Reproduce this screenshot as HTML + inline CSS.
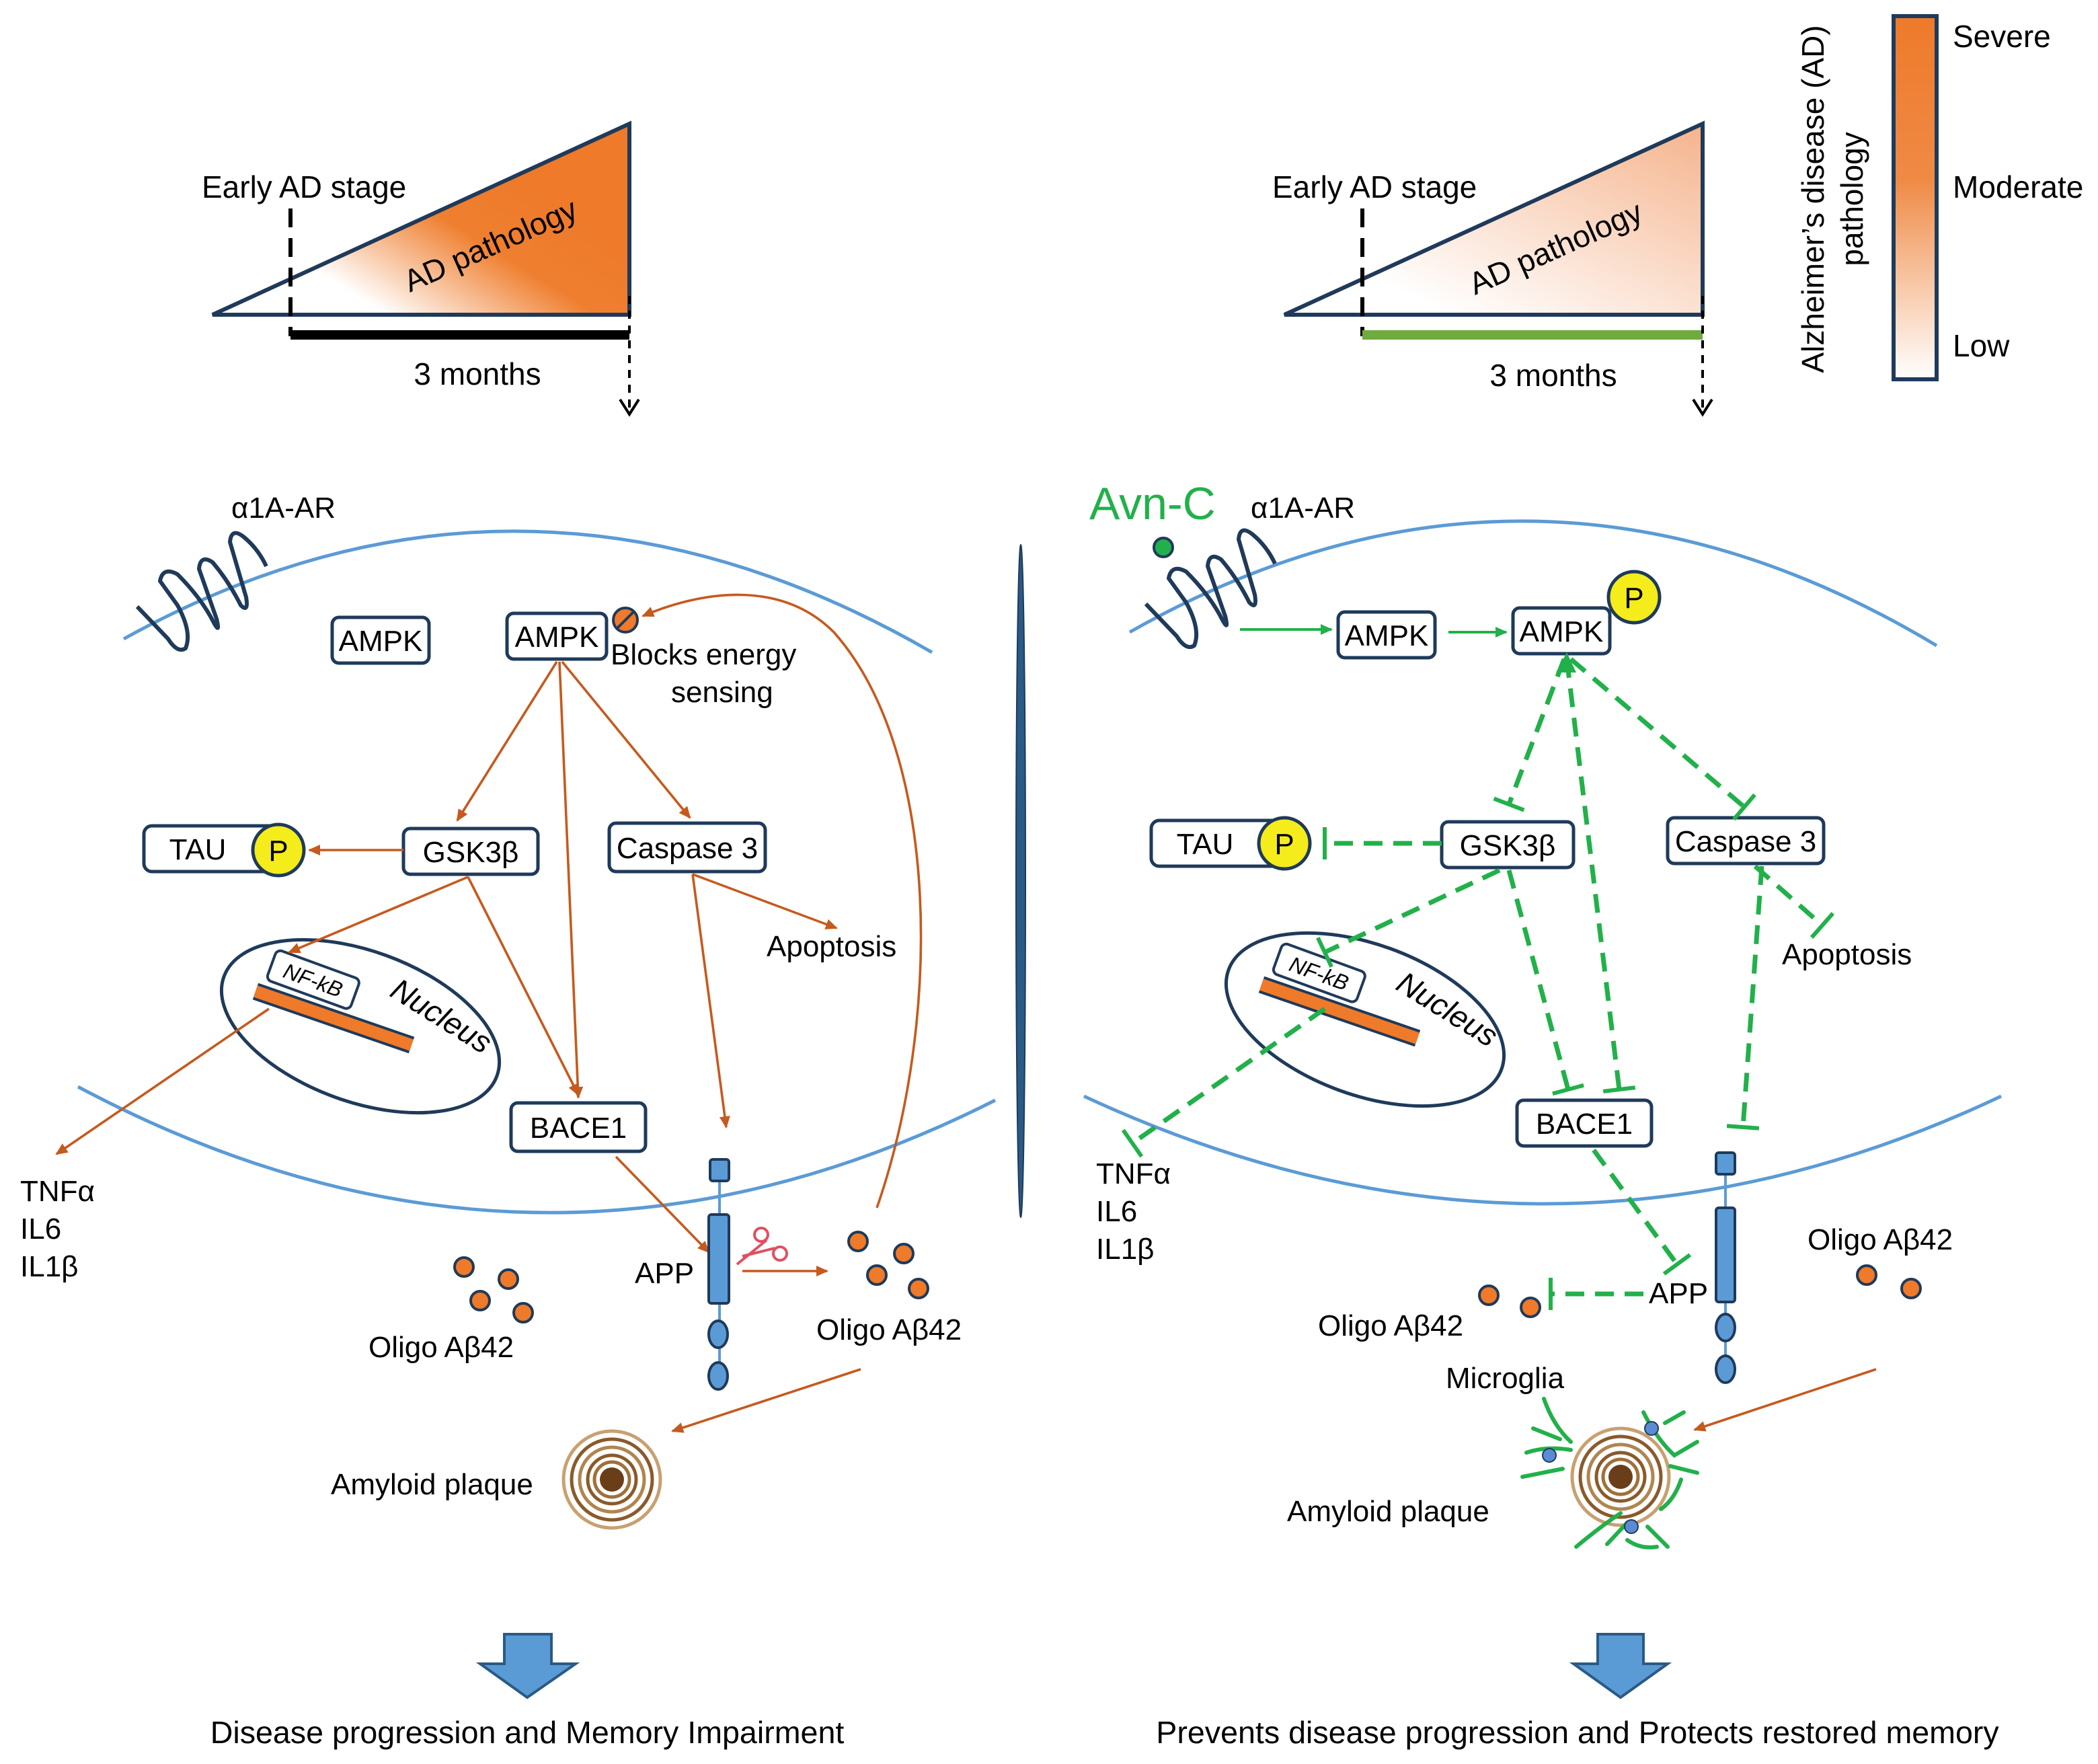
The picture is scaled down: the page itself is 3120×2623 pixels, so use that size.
<!DOCTYPE html>
<html><head><meta charset="utf-8"><style>
html,body{margin:0;padding:0;background:#fff}
svg{display:block}
text{font-family:"Liberation Sans",sans-serif;fill:#000}
</style></head><body>
<svg width="3120" height="2623" viewBox="0 0 1560 1311.5" xmlns="http://www.w3.org/2000/svg">
<defs>
<linearGradient id="g1" x1="0.2" y1="0.7" x2="0.75" y2="0.3">
<stop offset="0" stop-color="#fff"/><stop offset="0.6" stop-color="#ef7f30"/><stop offset="1" stop-color="#ee7a2a"/></linearGradient>
<linearGradient id="g2" x1="0.2" y1="0.8" x2="1" y2="0">
<stop offset="0" stop-color="#fff"/><stop offset="1" stop-color="#f5b38c"/></linearGradient>
<linearGradient id="g3" x1="0" y1="0" x2="0" y2="1">
<stop offset="0" stop-color="#ee7a2a"/><stop offset="0.45" stop-color="#ef8a45"/><stop offset="1" stop-color="#fff"/></linearGradient>
<marker id="ao" markerWidth="10" markerHeight="10" refX="8" refY="5" orient="auto" markerUnits="userSpaceOnUse"><path d="M0,1 L9,5 L0,9 z" fill="#c55a1e"/></marker>
<marker id="ag" markerWidth="10" markerHeight="10" refX="8" refY="5" orient="auto" markerUnits="userSpaceOnUse"><path d="M0,1 L9,5 L0,9 z" fill="#22b04a"/></marker>
<marker id="tg" markerWidth="6" markerHeight="24" refX="3" refY="12" orient="auto" markerUnits="userSpaceOnUse"><line x1="3" y1="0" x2="3" y2="24" stroke="#22b04a" stroke-width="3"/></marker>
<path id="rcp" d="M102,451 L125,475 Q132,486 138,482 Q143,470 132,450 L119,432 Q121,421 132,427 Q150,445 159,463 Q164,472 161,460 L148,423 Q149,412 158,418 Q170,432 179,450 Q185,456 183,444 L171,403 Q172,392 181,399 Q192,408 198,421" fill="none" stroke="#1f3a5a" stroke-width="3" stroke-linejoin="round"/>
</defs>

<!-- Top left timeline -->
<polygon points="158,234 468,92 468,234" fill="url(#g1)" stroke="#1f3a5a" stroke-width="3"/>
<line x1="216" y1="155" x2="216" y2="250" stroke="#000" stroke-width="3" stroke-dasharray="14,8"/>
<line x1="216" y1="249" x2="468" y2="249" stroke="#000" stroke-width="7"/>
<line x1="468" y1="220" x2="468" y2="308" stroke="#000" stroke-width="2" stroke-dasharray="6,5"/>
<path d="M461,297 L468,308 L475,297" fill="none" stroke="#000" stroke-width="2"/>
<text x="150" y="147" font-size="23">Early AD stage</text>
<text x="365" y="190" font-size="23" text-anchor="middle" transform="rotate(-24 365 183)">AD pathology</text>
<text x="355" y="286" font-size="23" text-anchor="middle">3 months</text>

<!-- Top right timeline -->
<polygon points="955,234 1266,92 1266,234" fill="url(#g2)" stroke="#1f3a5a" stroke-width="3"/>
<line x1="1013" y1="155" x2="1013" y2="250" stroke="#000" stroke-width="3" stroke-dasharray="14,8"/>
<line x1="1013" y1="249" x2="1266" y2="249" stroke="#6fab3e" stroke-width="7"/>
<line x1="1266" y1="220" x2="1266" y2="308" stroke="#000" stroke-width="2" stroke-dasharray="6,5"/>
<path d="M1259,297 L1266,308 L1273,297" fill="none" stroke="#000" stroke-width="2"/>
<text x="946" y="147" font-size="23">Early AD stage</text>
<text x="1157" y="192" font-size="23" text-anchor="middle" transform="rotate(-24 1157 185)">AD pathology</text>
<text x="1155" y="287" font-size="23" text-anchor="middle">3 months</text>

<!-- Legend -->
<rect x="1408" y="12" width="32" height="270" fill="url(#g3)" stroke="#1f3a5a" stroke-width="3"/>
<text x="1452" y="35" font-size="23">Severe</text>
<text x="1452" y="147" font-size="23">Moderate</text>
<text x="1452" y="265" font-size="23">Low</text>
<text font-size="23" text-anchor="middle" transform="translate(1356 148) rotate(-90)">Alzheimer’s disease (AD)</text>
<text font-size="23" text-anchor="middle" transform="translate(1385 148) rotate(-90)">pathology</text>

<!-- Divider -->
<ellipse cx="759" cy="655" rx="3.5" ry="250" fill="#2a5a86" stroke="#1f3a5a" stroke-width="1"/>

<!-- LEFT CELL -->
<path d="M92,475 Q390,310 693,485" fill="none" stroke="#5b9bd5" stroke-width="2.5"/>
<path d="M58,808 Q400,990 740,818" fill="none" stroke="#5b9bd5" stroke-width="2.5"/>
<use href="#rcp"/>
<text x="172" y="385" font-size="22">α1A-AR</text>

<rect x="247" y="459" width="72" height="34" rx="5" fill="#fff" stroke="#1f3a5a" stroke-width="2.5"/>
<text x="283" y="484" font-size="22" text-anchor="middle">AMPK</text>
<rect x="377" y="456" width="74" height="34" rx="5" fill="#fff" stroke="#1f3a5a" stroke-width="2.5"/>
<text x="414" y="481" font-size="22" text-anchor="middle">AMPK</text>
<circle cx="465" cy="461" r="9" fill="#ee7a2a" stroke="#1f3a5a" stroke-width="2"/>
<line x1="459" y1="467" x2="471" y2="455" stroke="#1f3a5a" stroke-width="2"/>
<text x="454" y="494" font-size="22">Blocks energy</text>
<text x="499" y="522" font-size="22">sensing</text>

<rect x="107" y="614" width="100" height="34" rx="6" fill="#fff" stroke="#1f3a5a" stroke-width="2.5"/>
<text x="147" y="639" font-size="22" text-anchor="middle">TAU</text>
<circle cx="207" cy="632" r="19" fill="#f5ec1c" stroke="#1f3a5a" stroke-width="2.5"/>
<text x="207" y="640" font-size="22" text-anchor="middle">P</text>
<rect x="300" y="616" width="100" height="34" rx="5" fill="#fff" stroke="#1f3a5a" stroke-width="2.5"/>
<text x="350" y="641" font-size="22" text-anchor="middle">GSK3β</text>
<rect x="453" y="612" width="116" height="36" rx="5" fill="#fff" stroke="#1f3a5a" stroke-width="2.5"/>
<text x="511" y="638" font-size="22" text-anchor="middle">Caspase 3</text>
<rect x="380" y="820" width="100" height="36" rx="5" fill="#fff" stroke="#1f3a5a" stroke-width="2.5"/>
<text x="430" y="846" font-size="22" text-anchor="middle">BACE1</text>

<ellipse cx="268" cy="763" rx="108" ry="56" transform="rotate(20 268 763)" fill="none" stroke="#1f3a5a" stroke-width="2.5"/>
<line x1="190" y1="737" x2="306" y2="777" stroke="#1f3a5a" stroke-width="13"/>
<line x1="190" y1="737" x2="306" y2="777" stroke="#ee7a2a" stroke-width="9"/>
<g transform="rotate(20 232 728)"><rect x="200" y="716" width="66" height="24" rx="4" fill="#fff" stroke="#1f3a5a" stroke-width="2"/>
<text x="233" y="734" font-size="16" text-anchor="middle" font-style="italic">NF-kB</text></g>
<text x="324" y="762" font-size="23" font-style="italic" transform="rotate(32 324 762)" text-anchor="middle">Nucleus</text>

<g stroke="#c55a1e" stroke-width="1.8" fill="none" marker-end="url(#ao)">
<line x1="414" y1="492" x2="340" y2="610"/>
<line x1="416" y1="492" x2="430" y2="816"/>
<line x1="418" y1="492" x2="513" y2="608"/>
<line x1="300" y1="632" x2="230" y2="632"/>
<line x1="348" y1="652" x2="215" y2="708"/>
<line x1="348" y1="652" x2="430" y2="814"/>
<line x1="515" y1="650" x2="622" y2="690"/>
<line x1="515" y1="650" x2="540" y2="838"/>
<line x1="200" y1="750" x2="42" y2="858"/>
<line x1="458" y1="860" x2="527" y2="931"/>
<line x1="552" y1="945" x2="615" y2="945"/>
<line x1="640" y1="1018" x2="500" y2="1064"/>
<path d="M652,898 C700,760 700,560 620,470 C580,430 520,440 478,458"/>
</g>
<text x="570" y="711" font-size="22">Apoptosis</text>
<text x="15" y="893" font-size="22">TNFα</text>
<text x="15" y="921" font-size="22">IL6</text>
<text x="15" y="949" font-size="22">IL1β</text>

<!-- APP left -->
<line x1="535" y1="870" x2="535" y2="1025" stroke="#5b9bd5" stroke-width="2"/>
<rect x="528" y="862" width="14" height="16" rx="2" fill="#5b9bd5" stroke="#1f3a5a" stroke-width="2"/>
<rect x="527" y="903" width="15" height="66" rx="2" fill="#5b9bd5" stroke="#1f3a5a" stroke-width="2"/>
<ellipse cx="534" cy="992" rx="7" ry="10" fill="#5b9bd5" stroke="#1f3a5a" stroke-width="2"/>
<ellipse cx="534" cy="1023" rx="7" ry="10" fill="#5b9bd5" stroke="#1f3a5a" stroke-width="2"/>
<text x="472" y="954" font-size="22">APP</text>
<g fill="none" stroke="#e05060" stroke-width="2"><circle cx="566" cy="918" r="5"/><circle cx="580" cy="932" r="5"/><line x1="570" y1="922" x2="548" y2="940"/><line x1="576" y1="928" x2="552" y2="934"/></g>

<g fill="#ee7a2a" stroke="#1f3a5a" stroke-width="2">
<circle cx="345" cy="942" r="7"/><circle cx="378" cy="951" r="7"/><circle cx="357" cy="967" r="7"/><circle cx="389" cy="976" r="7"/>
<circle cx="638" cy="923" r="7"/><circle cx="672" cy="932" r="7"/><circle cx="652" cy="948" r="7"/><circle cx="683" cy="958" r="7"/>
</g>
<text x="274" y="1009" font-size="22">Oligo Aβ42</text>
<text x="607" y="996" font-size="22">Oligo Aβ42</text>

<g fill="none" stroke-width="2.5">
<circle cx="455" cy="1100" r="36" stroke="#c8a070"/><circle cx="455" cy="1100" r="30" stroke="#8b5a2b"/><circle cx="455" cy="1100" r="24" stroke="#b08550"/><circle cx="455" cy="1100" r="18" stroke="#8b5a2b"/><circle cx="455" cy="1100" r="13" stroke="#a0703a"/>
</g>
<circle cx="455" cy="1100" r="9" fill="#6b3e1a"/>
<text x="246" y="1111" font-size="22">Amyloid plaque</text>

<!-- RIGHT CELL -->
<path d="M840,470 Q1140,300 1440,480" fill="none" stroke="#5b9bd5" stroke-width="2.5"/>
<path d="M806,815 Q1150,975 1488,815" fill="none" stroke="#5b9bd5" stroke-width="2.5"/>
<use href="#rcp" transform="translate(750,-2)"/>
<text x="810" y="386" font-size="34" style="fill:#22b04a">Avn-C</text>
<circle cx="865" cy="407" r="7" fill="#22b04a" stroke="#1f3a5a" stroke-width="2"/>
<text x="930" y="385" font-size="22">α1A-AR</text>

<rect x="995" y="455" width="72" height="34" rx="5" fill="#fff" stroke="#1f3a5a" stroke-width="2.5"/>
<text x="1031" y="480" font-size="22" text-anchor="middle">AMPK</text>
<rect x="1125" y="452" width="72" height="34" rx="5" fill="#fff" stroke="#1f3a5a" stroke-width="2.5"/>
<text x="1161" y="477" font-size="22" text-anchor="middle">AMPK</text>
<circle cx="1215" cy="444" r="19" fill="#f5ec1c" stroke="#1f3a5a" stroke-width="2.5"/>
<text x="1215" y="452" font-size="22" text-anchor="middle">P</text>
<rect x="856" y="610" width="100" height="34" rx="6" fill="#fff" stroke="#1f3a5a" stroke-width="2.5"/>
<text x="896" y="635" font-size="22" text-anchor="middle">TAU</text>
<circle cx="955" cy="627" r="19" fill="#f5ec1c" stroke="#1f3a5a" stroke-width="2.5"/>
<text x="955" y="635" font-size="22" text-anchor="middle">P</text>
<rect x="1072" y="611" width="98" height="34" rx="5" fill="#fff" stroke="#1f3a5a" stroke-width="2.5"/>
<text x="1121" y="636" font-size="22" text-anchor="middle">GSK3β</text>
<rect x="1240" y="608" width="116" height="34" rx="5" fill="#fff" stroke="#1f3a5a" stroke-width="2.5"/>
<text x="1298" y="633" font-size="22" text-anchor="middle">Caspase 3</text>
<rect x="1128" y="818" width="100" height="34" rx="5" fill="#fff" stroke="#1f3a5a" stroke-width="2.5"/>
<text x="1178" y="843" font-size="22" text-anchor="middle">BACE1</text>

<ellipse cx="1015" cy="758" rx="108" ry="56" transform="rotate(20 1015 758)" fill="none" stroke="#1f3a5a" stroke-width="2.5"/>
<line x1="938" y1="732" x2="1054" y2="772" stroke="#1f3a5a" stroke-width="13"/>
<line x1="938" y1="732" x2="1054" y2="772" stroke="#ee7a2a" stroke-width="9"/>
<g transform="rotate(20 980 723)"><rect x="948" y="711" width="66" height="24" rx="4" fill="#fff" stroke="#1f3a5a" stroke-width="2"/>
<text x="981" y="729" font-size="16" text-anchor="middle" font-style="italic">NF-kB</text></g>
<text x="1072" y="757" font-size="23" font-style="italic" transform="rotate(32 1072 757)" text-anchor="middle">Nucleus</text>

<g stroke="#22b04a" stroke-width="2" fill="none" marker-end="url(#ag)">
<line x1="922" y1="468" x2="990" y2="468"/>
<line x1="1077" y1="470" x2="1120" y2="470"/>
</g>
<g stroke="#22b04a" stroke-width="3.5" fill="none" stroke-dasharray="14,8" marker-end="url(#tg)">
<line x1="1163" y1="490" x2="1122" y2="598"/>
<line x1="1168" y1="490" x2="1297" y2="600"/>
<line x1="1165" y1="490" x2="1204" y2="810"/>
<line x1="1122" y1="647" x2="1166" y2="810"/>
<line x1="1072" y1="627" x2="985" y2="627"/>
<line x1="1115" y1="647" x2="985" y2="708"/>
<line x1="1305" y1="644" x2="1355" y2="688"/>
<line x1="1310" y1="644" x2="1296" y2="838"/>
<line x1="985" y1="750" x2="842" y2="850"/>
<line x1="1185" y1="855" x2="1247" y2="940"/>
<line x1="1222" y1="962" x2="1153" y2="962"/>
</g>
<path d="M1157,500 L1165,485 L1172,500 z" fill="#22b04a"/>
<text x="1325" y="717" font-size="22">Apoptosis</text>
<text x="815" y="880" font-size="22">TNFα</text>
<text x="815" y="908" font-size="22">IL6</text>
<text x="815" y="936" font-size="22">IL1β</text>

<line x1="1283" y1="866" x2="1283" y2="1020" stroke="#5b9bd5" stroke-width="2"/>
<rect x="1276" y="857" width="14" height="16" rx="2" fill="#5b9bd5" stroke="#1f3a5a" stroke-width="2"/>
<rect x="1276" y="898" width="14" height="70" rx="2" fill="#5b9bd5" stroke="#1f3a5a" stroke-width="2"/>
<ellipse cx="1283" cy="987" rx="7" ry="10" fill="#5b9bd5" stroke="#1f3a5a" stroke-width="2"/>
<ellipse cx="1283" cy="1018" rx="7" ry="10" fill="#5b9bd5" stroke="#1f3a5a" stroke-width="2"/>
<text x="1226" y="969" font-size="22">APP</text>
<g fill="#ee7a2a" stroke="#1f3a5a" stroke-width="2">
<circle cx="1107" cy="963" r="7"/><circle cx="1138" cy="972" r="7"/><circle cx="1388" cy="948" r="7"/><circle cx="1421" cy="958" r="7"/>
</g>
<text x="980" y="993" font-size="22">Oligo Aβ42</text>
<text x="1344" y="929" font-size="22">Oligo Aβ42</text>
<text x="1075" y="1032" font-size="22">Microglia</text>
<line x1="1395" y1="1018" x2="1260" y2="1063" stroke="#c55a1e" stroke-width="1.8" marker-end="url(#ao)"/>

<g fill="none" stroke-width="2.5">
<circle cx="1205" cy="1098" r="36" stroke="#c8a070"/><circle cx="1205" cy="1098" r="30" stroke="#8b5a2b"/><circle cx="1205" cy="1098" r="24" stroke="#b08550"/><circle cx="1205" cy="1098" r="18" stroke="#8b5a2b"/><circle cx="1205" cy="1098" r="13" stroke="#a0703a"/>
</g>
<circle cx="1205" cy="1098" r="9" fill="#6b3e1a"/>
<g stroke="#22b04a" stroke-width="3" fill="none" stroke-linecap="round">
<path d="M1135,1080 Q1150,1075 1168,1078 M1148,1040 Q1155,1060 1168,1072 M1132,1098 L1162,1092 M1140,1062 L1160,1070"/>
<path d="M1222,1050 Q1232,1070 1245,1082 L1262,1072 M1238,1058 L1252,1050 M1250,1100 Q1245,1115 1235,1122 M1242,1090 L1262,1095"/>
<path d="M1172,1150 Q1190,1135 1205,1125 M1195,1148 L1210,1132 M1225,1135 L1240,1150 M1210,1145 Q1220,1152 1232,1150"/>
</g>
<circle cx="1152" cy="1082" r="5" fill="#5b8bd5" stroke="#1f3a5a"/>
<circle cx="1228" cy="1062" r="5" fill="#5b8bd5" stroke="#1f3a5a"/>
<circle cx="1213" cy="1135" r="5" fill="#5b8bd5" stroke="#1f3a5a"/>
<text x="957" y="1131" font-size="22">Amyloid plaque</text>

<!-- Bottom arrows -->
<polygon points="375,1215 410,1215 410,1237 428,1237 392,1262 357,1237 375,1237" fill="#5b9bd5" stroke="#2a5a86" stroke-width="2"/>
<text x="392" y="1296" font-size="23.3" text-anchor="middle">Disease progression and Memory Impairment</text>
<polygon points="1188,1215 1222,1215 1222,1237 1240,1237 1205,1262 1170,1237 1188,1237" fill="#5b9bd5" stroke="#2a5a86" stroke-width="2"/>
<text x="1173" y="1296" font-size="23.3" text-anchor="middle">Prevents disease progression and Protects restored memory</text>
</svg>
</body></html>
